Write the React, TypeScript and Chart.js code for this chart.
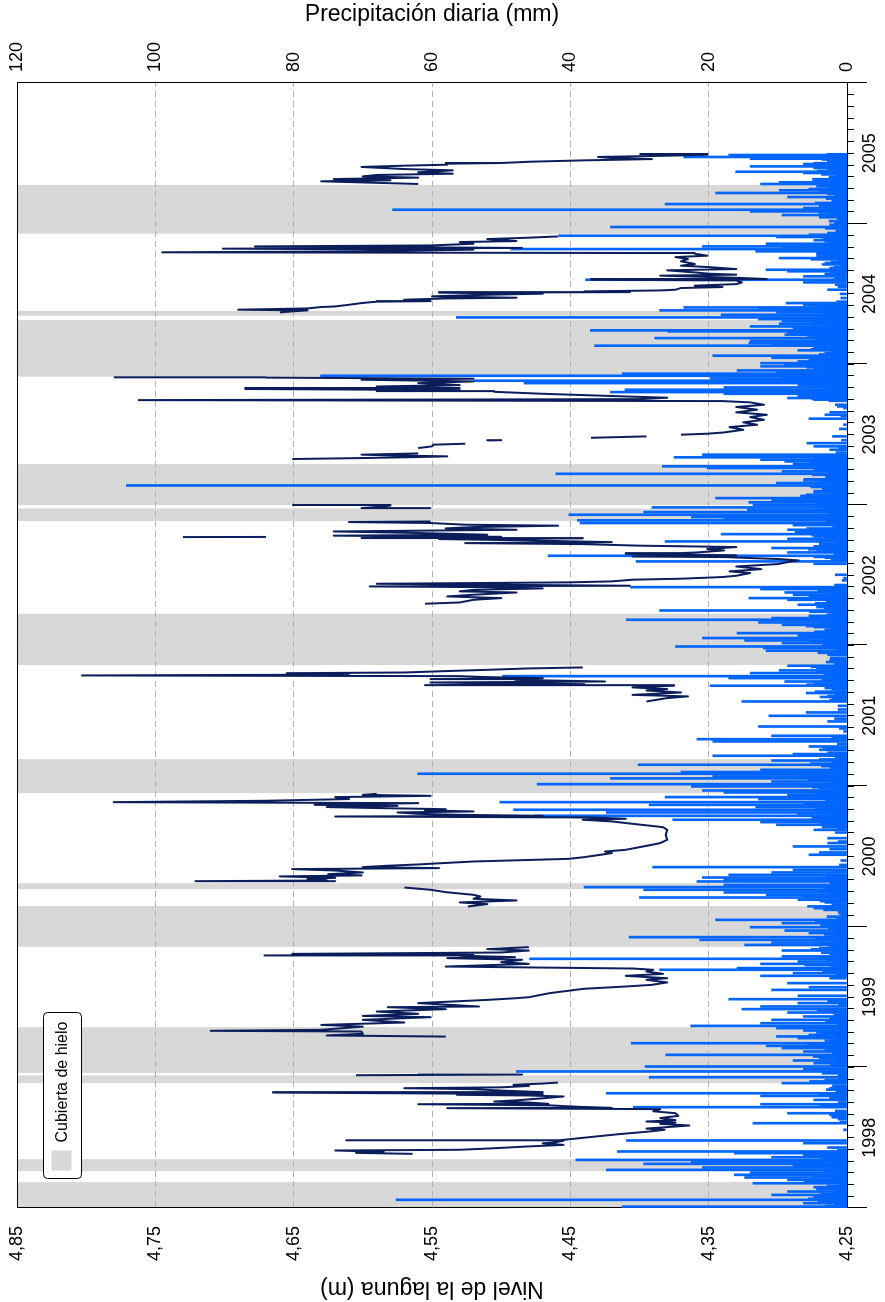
import React, { useEffect, useRef } from "react";
import { Chart, registerables } from "chart.js";

Chart.register(...registerables);

const FONT = "'Liberation Sans', Arial, Helvetica, sans-serif";
const NAVY = "#0b1e5b";
const BLUE = "#0066ff";
const ICE = "#d8d8d8";
const GRID = "#b3b3b3";

// ---------- axes ----------
const yearLabels = ["1998", "1999", "2000", "2001", "2002", "2003", "2004", "2005"];
const yearBounds = [1998, 1999, 2000, 2001, 2002, 2003, 2004, 2005, 2006];
const nivelTicks = [4.25, 4.35, 4.45, 4.55, 4.65, 4.75, 4.85];
const precipTicks = [0, 20, 40, 60, 80, 100, 120];

// ---------- ice cover periods (decimal years) ----------
const iceStart = [1998.0, 1998.262, 1998.888, 1998.959, 1999.857, 2000.267, 2000.95, 2001.861, 2002.885, 2002.999, 2003.911, 2004.345, 2004.928];
const iceEnd = [1998.184, 1998.347, 1998.943, 1999.286, 2000.147, 2000.31, 2001.192, 2002.226, 2002.975, 2003.29, 2004.314, 2004.38, 2005.275];

// ---------- lake level (m) ----------
const lvl1998T = [1998.385,1998.392,1998.4,1998.409,1998.414,1998.425,1998.437,1998.449,1998.46,1998.466,1998.478,1998.48,1998.483,1998.495,1998.51,1998.525,1998.544,1998.556,1998.565,1998.575,1998.587,1998.598,1998.608,1998.615,1998.625,1998.64,1998.655,1998.674,1998.688,1998.703,1998.71,1998.712,1998.72,1998.73,1998.738,1998.741,1998.75,1998.757,1998.765,1998.78,1998.793,1998.8,1998.805,1998.81,1998.821,1998.824,1998.835,1998.845,1998.852,1998.858,1998.868,1998.876,1998.885,1998.892];
const lvl1998M = [4.564,4.605,4.585,4.62,4.53,4.505,4.482,4.455,4.47,4.462,4.455,4.612,4.458,4.445,4.43,4.415,4.393,4.382,4.395,4.38,4.364,4.385,4.374,4.395,4.374,4.385,4.372,4.374,4.39,4.385,4.539,4.42,4.445,4.465,4.56,4.466,4.48,4.505,4.49,4.47,4.455,4.48,4.532,4.47,4.665,4.47,4.5,4.52,4.57,4.5,4.48,4.491,4.47,4.459];
const lvlDec98T = [1998.944, 1998.946, 1998.948, 1998.95];
const lvlDec98M = [4.605, 4.56, 4.525, 4.485];
const lvl1999T = [1999.219,1999.227,1999.239,1999.255,1999.26,1999.267,1999.29,1999.302,1999.319,1999.338,1999.357,1999.366,1999.381,1999.397,1999.414,1999.428,1999.433,1999.457,1999.48,1999.492,1999.499,1999.528,1999.559,1999.575,1999.587,1999.604,1999.623,1999.634,1999.651,1999.665,1999.682,1999.694,1999.703,1999.717,1999.736,1999.748,1999.765,1999.777,1999.784,1999.794,1999.796,1999.8,1999.807,1999.817,1999.831,1999.841,1999.855];
const lvl1999M = [4.54,4.626,4.6,4.601,4.71,4.63,4.6,4.63,4.57,4.6,4.551,4.6,4.56,4.59,4.54,4.582,4.516,4.56,4.51,4.489,4.48,4.465,4.44,4.41,4.391,4.38,4.395,4.38,4.41,4.383,4.395,4.39,4.405,4.54,4.48,4.5,4.485,4.539,4.49,4.53,4.671,4.52,4.651,4.5,4.48,4.51,4.48];
const lvlIce00T = [2000.144,2000.161,2000.173,2000.187,2000.199,2000.215,2000.227,2000.246,2000.263,2000.279];
const lvlIce00M = [4.524,4.51,4.53,4.489,4.52,4.515,4.52,4.54,4.551,4.57];
const lvl2000T = [2000.32,2000.324,2000.329,2000.339,2000.348,2000.358,2000.365,2000.374,2000.386,2000.4,2000.41,2000.417,2000.424,2000.434,2000.443,2000.448,2000.464,2000.483,2000.495,2000.512,2000.524,2000.535,2000.547,2000.566,2000.583,2000.595,2000.618,2000.654,2000.689,2000.708,2000.718,2000.732,2000.749,2000.761,2000.768,2000.777,2000.784,2000.789,2000.796,2000.803,2000.813,2000.82,2000.827,2000.836,2000.844,2000.851,2000.86,2000.867,2000.879,2000.886,2000.896,2000.908,2000.922,2000.931,2000.938,2000.945];
const lvl2000M = [4.62,4.721,4.626,4.64,4.62,4.66,4.601,4.625,4.6,4.62,4.651,4.545,4.6,4.582,4.56,4.551,4.52,4.451,4.44,4.428,4.42,4.425,4.41,4.4,4.391,4.385,4.38,4.381,4.38,4.383,4.392,4.405,4.42,4.441,4.41,4.435,4.62,4.47,4.53,4.56,4.575,4.52,4.555,4.54,4.59,4.626,4.575,4.635,4.56,4.78,4.67,4.61,4.62,4.551,4.6,4.59];
const lvl2001T = [2001.602,2001.626,2001.638,2001.649,2001.666,2001.68,2001.69,2001.702,2001.714,2001.718,2001.725,2001.737,2001.744,2001.756,2001.761,2001.768,2001.775,2001.782,2001.787,2001.792,2001.799,2001.803,2001.808,2001.818,2001.827,2001.837,2001.844];
const lvl2001M = [4.395,4.38,4.365,4.405,4.37,4.395,4.38,4.405,4.375,4.555,4.44,4.551,4.425,4.49,4.551,4.47,4.51,4.53,4.803,4.64,4.61,4.655,4.57,4.54,4.51,4.48,4.441];
const lvl2002T = [2002.297,2002.306,2002.325,2002.337,2002.349,2002.361,2002.377,2002.385,2002.396,2002.406,2002.415,2002.42,2002.425,2002.432,2002.439,2002.449,2002.456,2002.468,2002.475,2002.487,2002.496,2002.515,2002.527,2002.543,2002.562,2002.579,2002.598,2002.605,2002.615,2002.622,2002.629,2002.633,2002.641,2002.652,2002.657,2002.662,2002.676,2002.686,2002.7,2002.71,2002.721,2002.728,2002.735,2002.747,2002.757,2002.762,2002.764,2002.773,2002.781,2002.788,2002.8,2002.811,2002.823,2002.833,2002.842,2002.852,2002.859,2002.871,2002.878,2002.882];
const lvl2002M = [4.555,4.53,4.52,4.5,4.539,4.52,4.489,4.53,4.52,4.47,4.51,4.595,4.407,4.505,4.59,4.451,4.42,4.405,4.37,4.34,4.33,4.32,4.335,4.312,4.33,4.3,4.29,4.285,4.3,4.32,4.339,4.405,4.33,4.41,4.37,4.358,4.339,4.351,4.33,4.4,4.441,4.526,4.42,4.48,4.545,4.441,4.601,4.5,4.621,4.51,4.56,4.621,4.489,4.54,4.52,4.459,4.526,4.551,4.61,4.551];
const lvlSep02T = [2002.771, 2002.772];
const lvlSep02M = [4.73, 4.67];
const lvlDec02T = [2002.975, 2002.977, 2002.985, 2002.995, 2002.999];
const lvlDec02M = [4.551, 4.601, 4.59, 4.58, 4.651];
const lvl2003T = [2003.326,2003.333,2003.34,2003.345,2003.352,2003.357,2003.366,2003.385,2003.404,2003.416,2003.428,2003.435,2003.445,2003.458,2003.46,2003.47,2003.477,2003.487,2003.493,2003.499,2003.506,2003.515,2003.534,2003.553,2003.57,2003.587,2003.605,2003.624,2003.641,2003.658,2003.677,2003.696,2003.712,2003.729,2003.738,2003.745,2003.752,2003.762,2003.771,2003.79,2003.804,2003.809,2003.816,2003.824,2003.831,2003.842,2003.852,2003.866,2003.878,2003.89,2003.897,2003.905,2003.907];
const lvl2003M = [4.651,4.6,4.56,4.539,4.58,4.601,4.56,null,4.56,4.55,4.549,4.526,null,4.51,4.5,null,4.435,4.395,null,4.37,4.351,4.339,4.325,4.335,4.315,4.325,4.31,4.32,4.308,4.33,4.315,4.33,4.31,4.32,4.34,4.762,4.4,4.38,4.41,4.47,4.505,4.59,4.53,4.685,4.53,4.59,4.53,4.56,4.52,4.601,4.52,4.67,4.78];
const lvl2004T = [2004.369,2004.376,2004.383,2004.388,2004.397,2004.407,2004.411,2004.423,2004.435,2004.445,2004.449,2004.459,2004.468,2004.473,2004.483,2004.492,2004.502,2004.509,2004.513,2004.518,2004.525,2004.53,2004.542,2004.549,2004.559,2004.57,2004.582,2004.596,2004.601,2004.606,2004.615,2004.63,2004.637,2004.644,2004.653,2004.668,2004.677,2004.691,2004.701,2004.713,2004.732,2004.748,2004.762,2004.772,2004.786,2004.791,2004.796,2004.803,2004.815,2004.822,2004.827,2004.834,2004.838,2004.845,2004.857,2004.869,2004.876,2004.89,2004.9,2004.909];
const lvl2004M = [4.66,4.651,4.64,4.69,4.64,4.63,4.62,4.61,4.601,4.59,4.551,4.57,4.54,4.489,4.55,4.52,4.47,4.545,4.407,4.44,4.385,4.374,4.37,4.34,4.36,4.33,4.326,4.33,4.435,4.308,4.33,4.385,4.33,4.35,4.36,4.38,4.33,4.35,4.37,4.36,4.37,4.365,4.374,4.351,4.36,4.4,4.745,4.6,4.52,4.701,4.485,4.6,4.678,4.55,4.52,4.53,4.489,4.51,4.48,4.459];
const lvl2005T = [2005.282,2005.301,2005.308,2005.317,2005.327,2005.336,2005.346,2005.355,2005.365,2005.379,2005.388,2005.403,2005.412,2005.419,2005.426,2005.431,2005.44,2005.45,2005.459,2005.467,2005.474,2005.483,2005.49,2005.495];
const lvl2005M = [4.56,4.63,4.58,4.621,4.56,4.6,4.59,4.535,4.56,4.535,4.57,4.601,4.57,4.539,4.54,4.5,4.48,4.44,4.391,4.42,4.43,4.38,4.351,4.4];

const levelSegments: [number[], (number | null)[]][] = [
  [lvl1998T, lvl1998M], [lvlDec98T, lvlDec98M], [lvl1999T, lvl1999M], [lvlIce00T, lvlIce00M],
  [lvl2000T, lvl2000M], [lvl2001T, lvl2001M], [lvl2002T, lvl2002M], [lvlSep02T, lvlSep02M],
  [lvlDec02T, lvlDec02M], [lvl2003T, lvl2003M], [lvl2004T, lvl2004M], [lvl2005T, lvl2005M],
];

// ---------- daily precipitation (mm): larger events ----------
const rain1998T = [1998.002,1998.01,1998.034,1998.058,1998.077,1998.093,1998.117,1998.148,1998.176,1998.2,1998.217,1998.236,1998.252,1998.271,1998.288,1998.3,1998.314,1998.33,1998.342,1998.361,1998.378,1998.39,1998.402,1998.461,1998.48,1998.556,1998.603,1998.632,1998.662,1998.674,1998.717,1998.738,1998.769,1998.797,1998.816,1998.852,1998.888,1998.911,1998.93,1998.947,1998.971,1998.987];
const rain1998Mm = [2.5,32.5,6.3,65.2,4.8,10.9,8.6,4.8,13.6,8.6,14.8,16.3,14.0,34.8,20.9,7.8,29.4,22.5,39.2,10.9,6.3,16.3,33.2,6.3,31.9,0.5,13.6,1.3,2.5,8.6,30.9,12.5,4.8,12.5,34.8,2.5,9.4,3.2,28.6,1.3,47.8,6.3];
const rain1999T = [1999.006,1999.03,1999.049,1999.065,1999.089,1999.113,1999.137,1999.153,1999.172,1999.191,1999.208,1999.22,1999.231,1999.248,1999.262,1999.279,1999.295,1999.314,1999.338,1999.362,1999.39,1999.414,1999.433,1999.457,1999.485,1999.509,1999.551,1999.57,1999.599,1999.634,1999.651,1999.67,1999.694,1999.706,1999.736,1999.753,1999.772,1999.789,1999.807,1999.831,1999.848,1999.871,1999.888,1999.907,1999.926,1999.955,1999.973,1999.997];
const rain1999Mm = [29.2,4.8,7.8,4.0,26.2,6.3,9.4,11.7,31.2,3.2,7.1,10.2,5.5,4.4,6.3,10.2,22.6,12.5,10.9,6.3,8.6,15.2,12.5,7.1,17.1,7.1,10.9,5.5,8.6,2.5,12.5,7.8,27.1,15.9,12.5,7.1,45.9,9.4,2.5,9.4,4.0,14.8,10.9,21.3,31.5,5.5,9.0,14.0];
const rain2000T = [2000.026,2000.049,2000.085,2000.109,2000.132,2000.173,2000.192,2000.208,2000.227,2000.244,2000.263,2000.282,2000.298,2000.322,2000.334,2000.35,2000.369,2000.386,2000.405,2000.424,2000.471,2000.512,2000.528,2000.552,2000.571,2000.595,2000.606,2000.63,2000.67,2000.689,2000.708,2000.725,2000.744,2000.761,2000.78,2000.789,2000.813,2000.832,2000.851,2000.867,2000.886,2000.908,2000.922,2000.938,2000.955,2000.969,2000.986,2000.998];
const rain2000Mm = [9.4,19.0,0.9,1.3,4.8,3.2,7.1,30.0,11.7,17.8,29.4,38.0,17.8,21.7,17.8,20.9,17.1,10.9,7.8,28.1,0.9,5.5,4.0,2.5,7.8,2.8,1.3,2.8,1.7,4.8,3.6,10.2,12.5,25.2,4.8,45.2,34.8,48.2,13.2,28.6,50.2,12.8,26.3,8.6,17.8,20.9,4.0,22.5];
const rain2001T = [2001.014,2001.033,2001.055,2001.069,2001.088,2001.1,2001.116,2001.133,2001.152,2001.182,2001.199,2001.216,2001.228,2001.258,2001.282,2001.318,2001.334,2001.358,2001.389,2001.424,2001.46,2001.5,2001.524,2001.571,2001.602,2001.626,2001.642,2001.662,2001.697,2001.714,2001.728,2001.744,2001.768,2001.782,2001.804,2001.823,2001.839,2001.856,2001.898,2001.934,2001.963,2001.982,2001.993];
const rain2001Mm = [44.8,10.9,34.2,19.4,62.1,24.0,12.5,2.5,30.2,10.9,1.7,19.4,7.8,4.0,5.5,19.4,21.7,10.9,0.5,12.8,2.8,11.3,5.9,1.3,15.2,2.1,2.8,5.9,3.2,19.8,4.8,9.0,17.1,49.8,14.0,9.8,4.4,8.6,2.5,2.8,11.7,12.1,24.8];
const rain2002T = [2002.017,2002.036,2002.053,2002.072,2002.088,2002.112,2002.131,2002.147,2002.164,2002.183,2002.195,2002.211,2002.23,2002.249,2002.273,2002.29,2002.325,2002.337,2002.361,2002.377,2002.401,2002.415,2002.463,2002.479,2002.503,2002.581,2002.598,2002.624,2002.638,2002.662,2002.676,2002.693,2002.705,2002.724,2002.74,2002.759,2002.776,2002.792,2002.809,2002.823,2002.842,2002.856,2002.871,2002.89,2002.901,2002.913,2002.93,2002.949,2002.965,2002.982];
const rain2002Mm = [9.4,14.8,20.9,7.1,15.9,3.2,4.8,9.4,12.8,31.9,10.9,5.5,2.1,27.1,4.4,7.1,8.6,14.2,7.8,9.0,12.5,31.3,0.7,0.5,1.7,4.8,30.5,3.2,43.2,8.6,4.4,10.9,4.8,4.0,26.3,8.6,4.8,18.2,7.5,8.6,1.7,7.8,38.6,39.0,17.8,22.5,40.2,29.4,14.4,28.2];
const rain2003T = [2003.001,2003.018,2003.032,2003.048,2003.072,2003.089,2003.108,2003.127,2003.138,2003.155,2003.174,2003.191,2003.207,2003.221,2003.238,2003.25,2003.262,2003.274,2003.29,2003.309,2003.321,2003.338,2003.357,2003.392,2003.416,2003.439,2003.487,2003.57,2003.613,2003.641,2003.658,2003.688,2003.712,2003.748,2003.76,2003.776,2003.79,2003.802,2003.819,2003.835,2003.852,2003.866,2003.883,2003.89,2003.899,2003.909,2003.918,2003.933,2003.942,2003.956,2003.971,2003.985];
const rain2003Mm = [13.6,14.2,10.9,19.0,5.9,4.8,3.2,5.2,104.2,10.2,6.3,2.5,2.8,42.1,9.4,4.8,20.2,26.7,7.8,9.0,12.5,25.0,20.9,2.5,4.8,5.8,2.1,0.5,5.5,3.2,2.5,0.5,1.7,4.8,8.6,7.1,17.8,34.2,32.1,17.8,7.1,46.7,54.0,17.8,19.8,9.4,76.1,32.5,10.2,15.9,4.8,12.5];
const rain2004T = [2004.001,2004.008,2004.02,2004.037,2004.046,2004.061,2004.08,2004.099,2004.115,2004.132,2004.141,2004.151,2004.167,2004.186,2004.198,2004.21,2004.222,2004.234,2004.241,2004.255,2004.269,2004.288,2004.305,2004.321,2004.333,2004.352,2004.369,2004.383,2004.393,2004.404,2004.423,2004.435,2004.471,2004.53,2004.566,2004.582,2004.601,2004.625,2004.642,2004.661,2004.672,2004.684,2004.701,2004.72,2004.739,2004.755,2004.767,2004.779,2004.791,2004.803,2004.819,2004.829,2004.838,2004.857,2004.874,2004.891,2004.905,2004.914,2004.921,2004.933,2004.945,2004.957,2004.976,2004.992];
const rain2004Mm = [9.0,12.5,7.1,4.8,10.9,19.4,3.2,7.1,4.8,36.5,10.9,14.2,14.0,27.8,4.0,9.0,8.6,25.9,37.1,7.8,14.0,9.8,9.4,12.8,56.5,18.2,10.2,27.1,12.8,23.6,6.3,8.8,0.9,2.8,1.7,6.3,37.8,6.3,3.2,8.6,11.7,2.5,0.9,3.2,1.3,9.8,4.4,3.2,4.4,13.2,48.6,9.4,20.9,11.7,3.2,1.3,10.2,41.7,5.5,2.8,1.3,0.9,34.2,2.5];
const rain2005T = [2005.009,2005.028,2005.045,2005.061,2005.071,2005.087,2005.099,2005.111,2005.123,2005.139,2005.156,2005.17,2005.189,2005.203,2005.218,2005.237,2005.246,2005.26,2005.27,2005.282,2005.294,2005.308,2005.324,2005.341,2005.36,2005.369,2005.379,2005.395,2005.407,2005.424,2005.436,2005.45,2005.462,2005.474,2005.488];
const rain2005Mm = [0.9,1.3,4.0,9.4,2.5,14.0,65.7,6.3,4.0,26.3,1.7,0.5,8.6,1.7,19.0,9.8,5.5,2.5,3.2,12.5,9.8,4.8,2.5,1.7,6.3,16.1,2.8,4.8,14.0,6.3,2.8,2.8,14.0,23.6,17.1];

// ---------- daily precipitation (mm): small daily amounts ----------
const drizzle1998T = [1998.014,1998.022,1998.042,1998.05,1998.066,1998.085,1998.101,1998.108,1998.125,1998.134,1998.158,1998.166,1998.185,1998.192,1998.208,1998.226,1998.244,1998.262,1998.28,1998.295,1998.322,1998.35,1998.37,1998.41,1998.43,1998.612,1998.645,1998.69,1998.728,1998.75,1998.782,1998.806,1998.83,1998.842,1998.87,1998.9,1998.922,1998.958,1998.979];
const drizzle1998Mm = [3.1,1.8,4.2,2.4,5.6,1.2,3.8,2.2,1.6,4.4,2.9,1.1,3.5,6.2,2.0,4.8,1.5,3.3,2.6,5.1,1.9,3.7,2.3,1.4,2.8,1.0,2.2,1.7,3.9,1.3,2.5,4.1,1.6,3.0,2.1,5.4,1.2,3.6,2.7];
const drizzle1999T = [1999.014,1999.04,1999.057,1999.077,1999.1,1999.125,1999.145,1999.163,1999.181,1999.2,1999.24,1999.27,1999.287,1999.305,1999.326,1999.35,1999.375,1999.4,1999.445,1999.47,1999.66,1999.682,1999.715,1999.727,1999.745,1999.762,1999.78,1999.798,1999.815,1999.822,1999.84,1999.857,1999.863,1999.88,1999.897,1999.915,1999.935,1999.945,1999.963,1999.985];
const drizzle1999Mm = [2.4,3.6,1.5,4.9,2.1,3.2,1.3,5.8,2.6,1.7,3.4,2.2,4.6,1.4,3.1,2.5,1.9,4.3,1.2,2.8,1.6,3.5,2.3,6.1,1.8,2.9,4.2,1.5,3.7,2.0,5.2,1.4,2.6,3.9,1.7,4.5,2.2,3.3,1.6,2.7];
const drizzle2000T = [2000.01,2000.018,2000.036,2000.06,2000.072,2000.096,2000.12,2000.145,2000.158,2000.182,2000.2,2000.216,2000.236,2000.252,2000.272,2000.29,2000.31,2000.342,2000.36,2000.395,2000.44,2000.7,2000.716,2000.735,2000.752,2000.77,2000.797,2000.805,2000.822,2000.841,2000.858,2000.876,2000.895,2000.915,2000.93,2000.946,2000.962,2000.978,2000.992];
const drizzle2000Mm = [3.8,2.1,4.6,1.5,2.9,1.2,3.4,5.7,2.2,3.9,1.6,6.4,2.7,4.1,3.3,5.2,2.4,4.8,3.0,1.9,1.1,1.4,2.6,3.8,1.7,5.1,2.3,7.2,3.5,4.6,2.8,6.3,3.1,5.5,2.0,4.4,3.6,1.8,5.0];
const drizzle2001T = [2001.006,2001.024,2001.044,2001.062,2001.078,2001.094,2001.108,2001.124,2001.142,2001.16,2001.172,2001.19,2001.208,2001.238,2001.268,2001.3,2001.345,2001.41,2001.48,2001.545,2001.612,2001.634,2001.652,2001.672,2001.688,2001.706,2001.722,2001.736,2001.752,2001.76,2001.775,2001.792,2001.812,2001.83,2001.848,2001.868,2001.882,2001.912,2001.948,2001.973];
const drizzle2001Mm = [4.1,2.3,5.6,3.2,6.8,2.5,4.4,1.9,3.7,5.3,2.1,4.0,1.6,2.8,3.5,1.4,2.2,1.1,1.8,1.3,2.5,3.9,1.7,4.6,2.2,3.1,5.8,1.5,3.6,2.7,6.1,3.3,4.4,2.0,5.2,1.8,3.0,2.4,4.2,1.6];
const drizzle2002T = [2002.006,2002.026,2002.044,2002.062,2002.08,2002.098,2002.12,2002.138,2002.155,2002.172,2002.189,2002.203,2002.22,2002.24,2002.258,2002.28,2002.3,2002.315,2002.345,2002.368,2002.39,2002.408,2002.43,2002.61,2002.63,2002.648,2002.668,2002.684,2002.698,2002.714,2002.732,2002.748,2002.766,2002.784,2002.8,2002.816,2002.832,2002.848,2002.863,2002.88,2002.895,2002.92,2002.94,2002.957,2002.973,2002.991];
const drizzle2002Mm = [3.5,5.2,2.4,6.6,3.1,4.7,2.2,5.9,3.8,2.6,6.3,4.1,2.9,5.4,3.3,2.0,4.6,3.0,5.5,2.5,4.2,3.6,1.8,2.3,4.8,1.9,3.4,5.6,2.7,3.9,1.6,4.4,3.2,5.1,2.4,3.7,5.8,2.1,4.9,3.0,6.2,4.3,2.8,5.0,3.5,4.6];
const drizzle2003T = [2003.01,2003.025,2003.04,2003.056,2003.064,2003.08,2003.098,2003.116,2003.132,2003.146,2003.163,2003.182,2003.199,2003.214,2003.23,2003.244,2003.256,2003.268,2003.282,2003.298,2003.315,2003.33,2003.348,2003.372,2003.405,2003.46,2003.54,2003.63,2003.7,2003.74,2003.754,2003.768,2003.783,2003.796,2003.81,2003.826,2003.843,2003.858,2003.873,2003.894,2003.904,2003.925,2003.938,2003.95,2003.964,2003.978,2003.993];
const drizzle2003Mm = [4.4,2.8,5.9,3.3,6.7,2.5,4.8,3.6,5.3,2.1,4.0,6.2,3.1,5.0,2.6,4.5,3.8,6.5,2.9,5.4,3.2,4.7,2.4,1.6,1.2,0.8,1.1,0.9,1.4,2.6,5.1,3.4,6.0,4.2,7.4,3.0,5.6,4.8,6.9,3.7,8.1,5.3,4.0,6.6,3.5,5.8,2.7];
const drizzle2004T = [2004.014,2004.028,2004.042,2004.054,2004.07,2004.088,2004.106,2004.122,2004.137,2004.158,2004.176,2004.192,2004.204,2004.216,2004.228,2004.248,2004.262,2004.278,2004.296,2004.312,2004.327,2004.34,2004.36,2004.376,2004.398,2004.414,2004.445,2004.5,2004.55,2004.61,2004.65,2004.667,2004.69,2004.71,2004.728,2004.746,2004.76,2004.773,2004.785,2004.797,2004.81,2004.824,2004.846,2004.865,2004.882,2004.898,2004.927,2004.95,2004.966,2004.984];
const drizzle2004Mm = [3.7,5.5,2.6,6.1,4.0,2.3,5.2,3.4,6.8,2.9,4.6,3.1,5.7,2.2,4.9,3.6,6.3,2.7,5.0,3.9,2.5,4.4,3.2,5.9,2.0,4.1,1.5,1.0,1.3,1.8,2.4,4.5,1.9,3.6,2.3,5.2,1.7,3.0,4.4,2.1,5.6,3.3,6.4,2.6,4.8,3.5,2.2,1.6,3.1,1.9];
const drizzle2005T = [2005.004,2005.018,2005.036,2005.053,2005.066,2005.079,2005.093,2005.105,2005.117,2005.131,2005.147,2005.163,2005.178,2005.196,2005.21,2005.226,2005.252,2005.265,2005.276,2005.288,2005.301,2005.316,2005.332,2005.35,2005.364,2005.374,2005.387,2005.401,2005.414,2005.43,2005.443,2005.456,2005.468,2005.48,2005.493];
const drizzle2005Mm = [1.8,2.6,1.4,3.2,2.0,4.1,1.6,3.5,2.4,1.9,4.6,2.2,3.0,1.5,2.8,3.9,1.7,4.4,2.1,3.3,1.8,5.0,2.6,3.7,2.0,4.3,1.6,3.1,2.5,4.8,1.9,3.6,2.3,4.0,2.9];

const rainYears: [number[], number[]][] = [
  [rain1998T, rain1998Mm], [rain1999T, rain1999Mm], [rain2000T, rain2000Mm], [rain2001T, rain2001Mm],
  [rain2002T, rain2002Mm], [rain2003T, rain2003Mm], [rain2004T, rain2004Mm], [rain2005T, rain2005Mm],
  [drizzle1998T, drizzle1998Mm], [drizzle1999T, drizzle1999Mm], [drizzle2000T, drizzle2000Mm], [drizzle2001T, drizzle2001Mm],
  [drizzle2002T, drizzle2002Mm], [drizzle2003T, drizzle2003Mm], [drizzle2004T, drizzle2004Mm], [drizzle2005T, drizzle2005Mm],
];

const LEGEND_TEXT = "Cubierta de hielo";

function buildLevelData() {
  const out: { x: number; y: number | null }[] = [];
  levelSegments.forEach(([t, m]) => {
    t.forEach((x, i) => out.push({ x, y: m[i] ?? null }));
    out.push({ x: t[t.length - 1], y: null });
  });
  return out;
}

function buildRainData() {
  const out: { x: number; y: number }[] = [];
  rainYears.forEach(([t, mm]) => t.forEach((x, i) => out.push({ x, y: mm[i] })));
  return out;
}

const monthTicks: number[] = [];
for (let m = 0; m <= (yearBounds.length - 1) * 12; m++) monthTicks.push(yearBounds[0] + m / 12);

const icePlugin = {
  id: "iceBands",
  beforeDraw(chart: any) {
    const { ctx, chartArea: a, scales } = chart;
    const x = scales.x;
    ctx.save();
    ctx.fillStyle = ICE;
    iceStart.forEach((s, i) => {
      const x0 = Math.max(a.left, x.getPixelForValue(s));
      const x1 = Math.min(a.right, x.getPixelForValue(iceEnd[i]));
      ctx.fillRect(x0, a.top, x1 - x0, a.bottom - a.top);
    });
    ctx.restore();
  },
};

const framePlugin = {
  id: "frameAndLegend",
  afterDraw(chart: any) {
    const { ctx, chartArea: a, scales } = chart;
    const x = scales.x;
    ctx.save();
    ctx.strokeStyle = "#000";
    ctx.lineWidth = 1;
    ctx.beginPath();
    ctx.moveTo(a.left, a.top + 0.5);
    ctx.lineTo(a.right, a.top + 0.5);
    ctx.stroke();
    yearBounds.forEach((yb) => {
      const px = Math.round(x.getPixelForValue(yb)) + 0.5;
      ctx.beginPath();
      ctx.moveTo(px, a.bottom);
      ctx.lineTo(px, a.bottom + 20);
      ctx.stroke();
    });
    const bx = a.left + 29.5, by = a.top + 26.5, bw = 166, bh = 38;
    ctx.beginPath();
    if ((ctx as any).roundRect) (ctx as any).roundRect(bx, by, bw, bh, 4);
    else ctx.rect(bx, by, bw, bh);
    ctx.fillStyle = "#fff";
    ctx.fill();
    ctx.stroke();
    ctx.fillStyle = ICE;
    ctx.fillRect(bx + 8, by + 8, 20, 20);
    ctx.fillStyle = "#000";
    ctx.font = `16px ${FONT}`;
    ctx.textBaseline = "middle";
    ctx.textAlign = "left";
    ctx.fillText(LEGEND_TEXT, bx + 36, by + bh / 2 + 0.5);
    ctx.restore();
  },
};

export default function App() {
  const ref = useRef<HTMLCanvasElement | null>(null);

  useEffect(() => {
    if (!ref.current) return;
    const chart = new Chart(ref.current, {
      type: "bar",
      data: {
        datasets: [
          {
            type: "line",
            label: "Nivel de la laguna",
            data: buildLevelData() as any,
            xAxisID: "x",
            yAxisID: "y",
            borderColor: NAVY,
            borderWidth: 2,
            borderJoinStyle: "round",
            pointRadius: 0,
            spanGaps: false,
            tension: 0,
            order: 1,
          } as any,
          {
            type: "bar",
            label: "Precipitación diaria",
            data: buildRainData() as any,
            xAxisID: "x",
            yAxisID: "y2",
            backgroundColor: BLUE,
            borderWidth: 0,
            barThickness: 2,
            order: 2,
          } as any,
        ],
      },
      options: {
        responsive: false,
        animation: false,
        devicePixelRatio: 1,
        layout: { padding: { top: 17, left: 0, right: 0, bottom: 0 } },
        plugins: { legend: { display: false }, tooltip: { enabled: false } },
        scales: {
          x: {
            type: "linear",
            position: "bottom",
            min: 1998,
            max: 2006,
            offset: false,
            afterBuildTicks: (s: any) => {
              s.ticks = monthTicks.map((v) => ({ value: v }));
            },
            afterFit: (s: any) => {
              s.height = 38;
              s.paddingLeft = 0;
              s.paddingRight = 0;
            },
            ticks: {
              autoSkip: false,
              maxRotation: 0,
              minRotation: 0,
              padding: 5,
              color: "#000",
              font: { family: FONT, size: 18 },
              callback: (v: any) => {
                const m = Math.round((Number(v) - yearBounds[0]) * 12);
                return m % 12 === 6 ? yearLabels[Math.floor(m / 12)] ?? "" : "";
              },
            },
            grid: { drawOnChartArea: false, tickLength: 7, tickColor: "#000", tickWidth: 1, offset: false },
            border: { color: "#000", width: 1 },
          },
          y: {
            type: "linear",
            position: "left",
            min: 4.25,
            max: 4.85,
            afterBuildTicks: (s: any) => {
              s.ticks = nivelTicks.map((v) => ({ value: v }));
            },
            afterFit: (s: any) => {
              s.width = 94;
              s.paddingTop = 0;
              s.paddingBottom = 0;
            },
            ticks: {
              padding: 18,
              color: "#000",
              font: { family: FONT, size: 18 },
              callback: (v: any) => Number(v).toFixed(2).replace(".", ","),
            },
            grid: { color: GRID, lineWidth: 1, drawTicks: false },
            border: { color: "#000", width: 1, dash: [6, 4] },
            title: {
              display: true,
              text: "Nivel de la laguna (m)",
              color: "#000",
              font: { family: FONT, size: 23 },
              padding: { top: 0, bottom: 0 },
            },
          },
          y2: {
            type: "linear",
            position: "right",
            min: 0,
            max: 120,
            afterBuildTicks: (s: any) => {
              s.ticks = precipTicks.map((v) => ({ value: v }));
            },
            afterFit: (s: any) => {
              s.width = 83;
              s.paddingTop = 0;
              s.paddingBottom = 0;
            },
            ticks: {
              padding: 11,
              color: "#000",
              font: { family: FONT, size: 18 },
            },
            grid: { drawOnChartArea: false, drawTicks: false },
            border: { color: "#000", width: 1 },
            title: {
              display: true,
              text: "Precipitación diaria (mm)",
              color: "#000",
              font: { family: FONT, size: 23 },
              padding: { top: 1, bottom: 0 },
            },
          },
        },
      } as any,
      plugins: [icePlugin, framePlugin],
    });
    return () => chart.destroy();
  }, []);

  return (
    <div
      style={{
        position: "fixed",
        left: 0,
        top: 0,
        width: 885,
        height: 1302,
        overflow: "hidden",
        background: "#fff",
      }}
    >
      <canvas
        ref={ref}
        width={1302}
        height={885}
        style={{
          position: "absolute",
          left: 0,
          top: 0,
          width: 1302,
          height: 885,
          transformOrigin: "0 0",
          transform: "translate(0px, 1302px) rotate(-90deg)",
        }}
      />
    </div>
  );
}
